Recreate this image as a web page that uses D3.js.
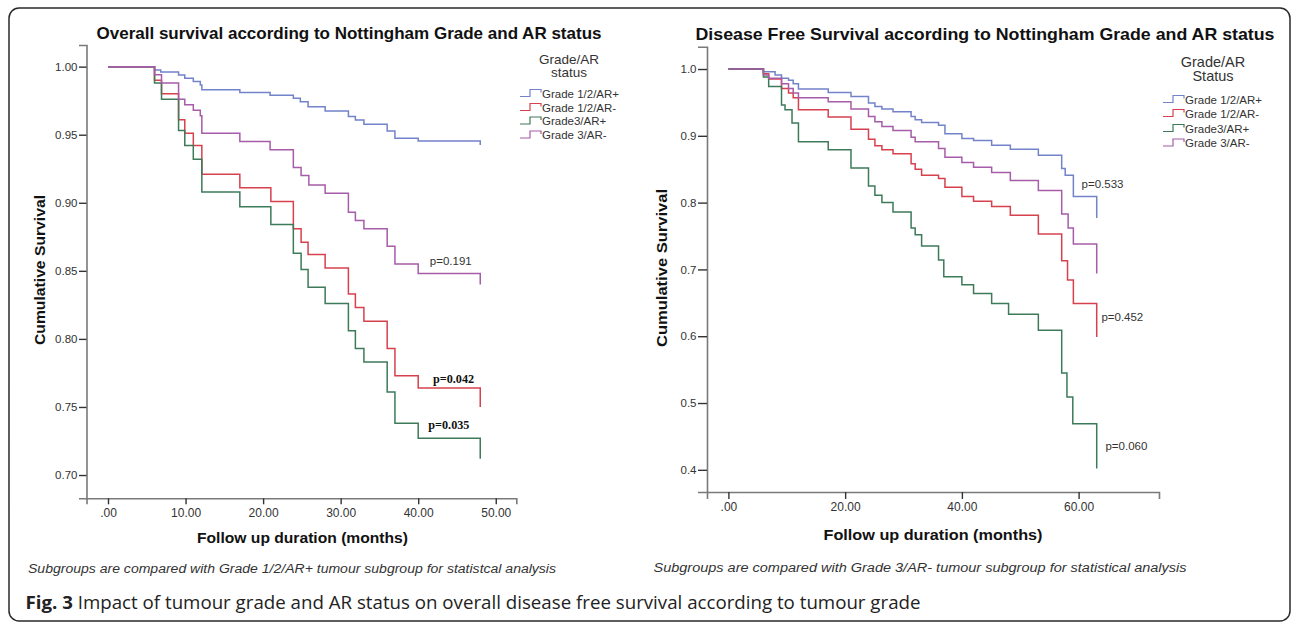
<!DOCTYPE html>
<html>
<head>
<meta charset="utf-8">
<script src="https://cdn.jsdelivr.net/npm/d3@7"></script>
<style>
  body { margin: 0; background: #fff; }
  svg { display: block; font-family: "Liberation Sans", Arial, sans-serif; }
</style>
</head>
<body>
<svg id="chart" width="1292" height="622"></svg>
<script>
// groups shared by both panels
const groups = ["Grade 1/2/AR+", "Grade 1/2/AR-", "Grade3/AR+", "Grade 3/AR-"];
const groupColors = ["#7383c9", "#d6414d", "#3d7a59", "#a65ca8"];

// overall survival: [months, cumulative survival]
const osG12Pos = [[0,1],[6.0,0.9976],[6.8,0.9961],[9.1,0.9939],[9.9,0.9915],[11.0,0.989],[11.9,0.9866],[12.1,0.983],[17.0,0.981],[20.9,0.979],[23.9,0.9768],[24.8,0.9743],[25.8,0.9706],[28.0,0.9674],[31.0,0.9633],[31.9,0.9608],[33.0,0.9576],[36.0,0.9528],[37.0,0.9474],[40.0,0.9454],[48.0,0.9425]];
const osG12Neg = [[0,1],[6.0,0.990],[6.9,0.980],[9.1,0.961],[9.9,0.951],[11.0,0.942],[12.1,0.921],[17.0,0.911],[21.0,0.901],[23.9,0.881],[24.9,0.871],[25.8,0.862],[28.0,0.852],[31.0,0.833],[31.9,0.823],[33.0,0.813],[36.0,0.793],[37.0,0.773],[40.0,0.764],[48.0,0.750]];
const osG3Pos = [[0,1],[6.0,0.988],[6.9,0.976],[9.1,0.953],[9.9,0.942],[11.0,0.932],[12.1,0.908],[17.0,0.897],[21.0,0.884],[23.9,0.863],[24.9,0.851],[25.8,0.838],[28.0,0.826],[31.0,0.806],[31.9,0.793],[33.0,0.783],[36.0,0.761],[37.0,0.738],[40.0,0.727],[48.0,0.712]];
const osG3Neg = [[0,1],[6.0,0.994],[6.9,0.988],[9.1,0.976],[9.9,0.972],[11.0,0.968],[11.9,0.964],[12.1,0.951],[17.0,0.945],[20.9,0.939],[23.9,0.926],[24.9,0.920],[25.9,0.913],[28.0,0.907],[31.0,0.893],[31.9,0.887],[33.0,0.881],[36.0,0.868],[37.0,0.855],[40.0,0.848],[48.0,0.840]];

// disease free survival
const dfsG12Pos = [[0,1],[6.0,0.996],[8.0,0.991],[9.1,0.986],[10.3,0.983],[11.1,0.978],[12.0,0.970],[17.1,0.965],[21.0,0.959],[24.0,0.949],[25.1,0.944],[26.3,0.940],[28.2,0.936],[31.3,0.929],[32.0,0.924],[33.1,0.920],[36.0,0.916],[37.1,0.903],[40.0,0.896],[42.0,0.893],[45.1,0.886],[48.3,0.880],[53.1,0.871],[57.1,0.851],[57.7,0.841],[59.1,0.809],[63.1,0.777]];
const dfsG12Neg = [[0,1],[6.0,0.993],[6.9,0.985],[9.1,0.971],[10.3,0.964],[11.1,0.957],[12.0,0.939],[17.1,0.928],[21.0,0.910],[24.0,0.895],[25.1,0.885],[26.3,0.879],[28.2,0.873],[31.3,0.858],[32.0,0.850],[33.1,0.841],[36.0,0.836],[37.1,0.823],[40.0,0.809],[42.0,0.802],[45.1,0.794],[48.3,0.781],[53.1,0.753],[57.1,0.713],[58.1,0.684],[59.1,0.649],[63.1,0.599]];
const dfsG3Pos = [[0,1],[6.0,0.988],[6.9,0.974],[9.1,0.946],[9.7,0.939],[10.9,0.919],[12.0,0.891],[17.1,0.879],[21.0,0.852],[24.0,0.825],[25.1,0.811],[26.3,0.800],[28.2,0.786],[31.3,0.762],[32.0,0.752],[33.1,0.735],[36.0,0.714],[36.9,0.689],[40.0,0.677],[42.0,0.664],[45.1,0.649],[48.0,0.633],[53.1,0.609],[57.1,0.545],[58.0,0.509],[59.0,0.469],[63.1,0.402]];
const dfsG3Neg = [[0,1],[6.0,0.991],[6.9,0.986],[9.1,0.978],[10.3,0.971],[11.1,0.964],[12.0,0.957],[17.1,0.951],[21.0,0.940],[24.0,0.929],[25.1,0.921],[26.3,0.914],[28.2,0.908],[31.3,0.898],[32.0,0.891],[36.0,0.881],[37.1,0.868],[40.0,0.860],[42.0,0.853],[45.1,0.845],[48.3,0.833],[53.1,0.818],[57.1,0.783],[58.2,0.762],[59.1,0.738],[63.1,0.694]];

// tick values
const osXTicks = [0, 10, 20, 30, 40, 50];
const osYTicks = [0.70, 0.75, 0.80, 0.85, 0.90, 0.95, 1.00];
const dfsXTicks = [0, 20, 40, 60];
const dfsYTicks = [0.4, 0.5, 0.6, 0.7, 0.8, 0.9, 1.0];

// p-value annotations: [label, months, survival, bold]
const osPValues = [["p=0.191", 41.5, 0.857, false], ["p=0.042", 41.9, 0.771, true], ["p=0.035", 41.3, 0.737, true]];
const dfsPValues = [["p=0.533", 60.5, 0.828, false], ["p=0.452", 63.9, 0.629, false], ["p=0.060", 64.6, 0.435, false]];

const svg = d3.select('#chart');

// outer frame
svg.append('rect')
    .attr('x', 9).attr('y', 8)
    .attr('width', 1281).attr('height', 613)
    .attr('rx', 10)
    .attr('fill', 'none')
    .attr('stroke', '#2a2a2a')
    .attr('stroke-width', 1.5);

function drawPanel(cfg) {
    const x = d3.scaleLinear().domain(cfg.xDomain).range([cfg.left, cfg.right]);
    const y = d3.scaleLinear().domain(cfg.yDomain).range([cfg.bottom, cfg.top]);
    const g = svg.append('g');

    // title
    g.append('text')
        .attr('x', cfg.titleX).attr('y', cfg.titleY)
        .attr('text-anchor', 'middle')
        .attr('font-size', 16.5).attr('font-weight', 'bold')
        .attr('fill', '#111')
        .attr('textLength', cfg.titleLen).attr('lengthAdjust', 'spacingAndGlyphs')
        .text(cfg.title);

    // axes
    const xAxis = g.append('g')
        .attr('transform', `translate(0,${cfg.bottom})`)
        .call(d3.axisBottom(x)
            .tickValues(cfg.xTicks)
            .tickFormat(d => d === 0 ? '.00' : d3.format('.2f')(d))
            .tickSizeOuter(0).tickSize(cfg.xTickSize).tickPadding(cfg.xTickPad));
    const yAxis = g.append('g')
        .attr('transform', `translate(${cfg.left},0)`)
        .call(d3.axisLeft(y)
            .tickValues(cfg.yTicks)
            .tickFormat(d3.format(cfg.yFormat))
            .tickSizeOuter(0).tickSize(cfg.yTickSize).tickPadding(cfg.yTickPad));
    [xAxis, yAxis].forEach(a => {
        a.select('.domain').attr('stroke', '#7a7a7a').attr('stroke-width', 1.6);
        a.selectAll('.tick line').attr('stroke', '#333').attr('stroke-width', 1.4);
        a.selectAll('.tick text').attr('fill', '#333').attr('font-family', '"Liberation Sans", Arial, sans-serif');
    });
    xAxis.selectAll('.tick text').attr('font-size', 12);
    yAxis.selectAll('.tick text').attr('font-size', 11.5);

    // axis titles
    g.append('text')
        .attr('x', cfg.xLabelX).attr('y', cfg.xLabelY)
        .attr('text-anchor', 'middle')
        .attr('font-size', 15.5).attr('font-weight', 'bold').attr('fill', '#111')
        .attr('textLength', cfg.xLabelLen).attr('lengthAdjust', 'spacingAndGlyphs')
        .text('Follow up duration (months)');
    g.append('text')
        .attr('transform', `translate(${cfg.yLabelX},${cfg.yLabelY}) rotate(-90)`)
        .attr('text-anchor', 'middle')
        .attr('font-size', 15).attr('font-weight', 'bold').attr('fill', '#111')
        .attr('textLength', cfg.yLabelLen).attr('lengthAdjust', 'spacingAndGlyphs')
        .text('Cumulative Survival');

    // survival step curves
    const line = d3.line()
        .x(d => x(d[0]))
        .y(d => y(d[1]))
        .curve(d3.curveStepAfter);
    cfg.series.forEach((s, i) => {
        g.append('path')
            .datum(s)
            .attr('d', line)
            .attr('fill', 'none')
            .attr('stroke', groupColors[i])
            .attr('stroke-width', 1.5);
    });

    // p-values
    cfg.pValues.forEach(p => {
        g.append('text')
            .attr('x', x(p[1])).attr('y', y(p[2]))
            .attr('dy', '0.35em')
            .attr('font-size', p[3] ? 12.2 : 11.5)
            .attr('font-family', p[3] ? '"Liberation Serif", "Times New Roman", serif' : null)
            .attr('font-weight', p[3] ? 'bold' : 'normal')
            .attr('fill', p[3] ? '#111' : '#333')
            .text(p[0]);
    });

    // legend
    const lg = g.append('g');
    cfg.legendTitle.forEach((t, i) => {
        lg.append('text')
            .attr('x', cfg.legendX).attr('y', cfg.legendTitleY[i])
            .attr('text-anchor', 'middle')
            .attr('font-size', cfg.legendTitleSize).attr('fill', '#333')
            .text(t);
    });
    groups.forEach((name, i) => {
        const cy = cfg.legendItemY[i];
        const sx = cfg.legendSymX;
        lg.append('path')
            .attr('d', `M${sx},${cy + 3}H${sx + 10}V${cy - 4}H${sx + 21}V${cy - 1}`)
            .attr('fill', 'none')
            .attr('stroke', groupColors[i])
            .attr('stroke-width', 1.2);
        lg.append('text')
            .attr('x', sx + 22).attr('y', cy)
            .attr('dy', '0.36em')
            .attr('font-size', 11.5).attr('fill', '#333')
            .text(name);
    });

    // footnote
    g.append('text')
        .attr('x', cfg.noteX).attr('y', cfg.noteY)
        .attr('font-size', 12.5).attr('font-style', 'italic').attr('fill', '#333')
        .attr('textLength', cfg.noteLen).attr('lengthAdjust', 'spacingAndGlyphs')
        .text(cfg.note);
}

drawPanel({
    title: 'Overall survival according to Nottingham Grade and AR status',
    titleX: 349, titleY: 39, titleLen: 505,
    left: 86.5, right: 516.3, top: 45, bottom: 498.3,
    xDomain: [-2.773, 52.65], yDomain: [0.6829, 1.0159],
    xTicks: osXTicks, yTicks: osYTicks, yFormat: '.2f',
    xTickSize: 6, xTickPad: 4, yTickSize: 7.5, yTickPad: 1.5,
    xLabelX: 302.5, xLabelY: 543, xLabelLen: 211,
    yLabelX: 45, yLabelY: 270, yLabelLen: 150,
    series: [osG12Pos, osG12Neg, osG3Pos, osG3Neg],
    pValues: osPValues,
    legendX: 569, legendTitleY: [64, 76.5], legendTitleSize: 13.5, legendTitle: ['Grade/AR', 'status'],
    legendSymX: 520, legendItemY: [93.5, 107.5, 121, 135],
    note: 'Subgroups are compared with Grade 1/2/AR+ tumour subgroup for statistcal analysis',
    noteX: 28, noteY: 572.5, noteLen: 528
});

drawPanel({
    title: 'Disease Free Survival according to Nottingham Grade and AR status',
    titleX: 985, titleY: 40, titleLen: 579,
    left: 707, right: 1159, top: 46.7, bottom: 492,
    xDomain: [-3.666, 73.77], yDomain: [0.3668, 1.0334],
    xTicks: dfsXTicks, yTicks: dfsYTicks, yFormat: '.1f',
    xTickSize: 7, xTickPad: 3.5, yTickSize: 9, yTickPad: 1.5,
    xLabelX: 933, xLabelY: 539.5, xLabelLen: 219,
    yLabelX: 667, yLabelY: 268, yLabelLen: 158,
    series: [dfsG12Pos, dfsG12Neg, dfsG3Pos, dfsG3Neg],
    pValues: dfsPValues,
    legendX: 1213, legendTitleY: [66.5, 81], legendTitleSize: 14.5, legendTitle: ['Grade/AR', 'Status'],
    legendSymX: 1163, legendItemY: [99.5, 113.5, 128.5, 143],
    note: 'Subgroups are compared with Grade 3/AR- tumour subgroup for statistical analysis',
    noteX: 653.5, noteY: 572, noteLen: 533
});

// figure caption
const cap = svg.append('text')
    .attr('x', 25.5).attr('y', 609)
    .attr('font-family', '"Open Sans", "Noto Sans", sans-serif')
    .attr('font-size', 17.5).attr('fill', '#222')
    .attr('textLength', 895).attr('lengthAdjust', 'spacingAndGlyphs');
cap.append('tspan').attr('font-weight', 'bold').text('Fig. 3');
cap.append('tspan').text(' Impact of tumour grade and AR status on overall disease free survival according to tumour grade');
</script>
</body>
</html>
